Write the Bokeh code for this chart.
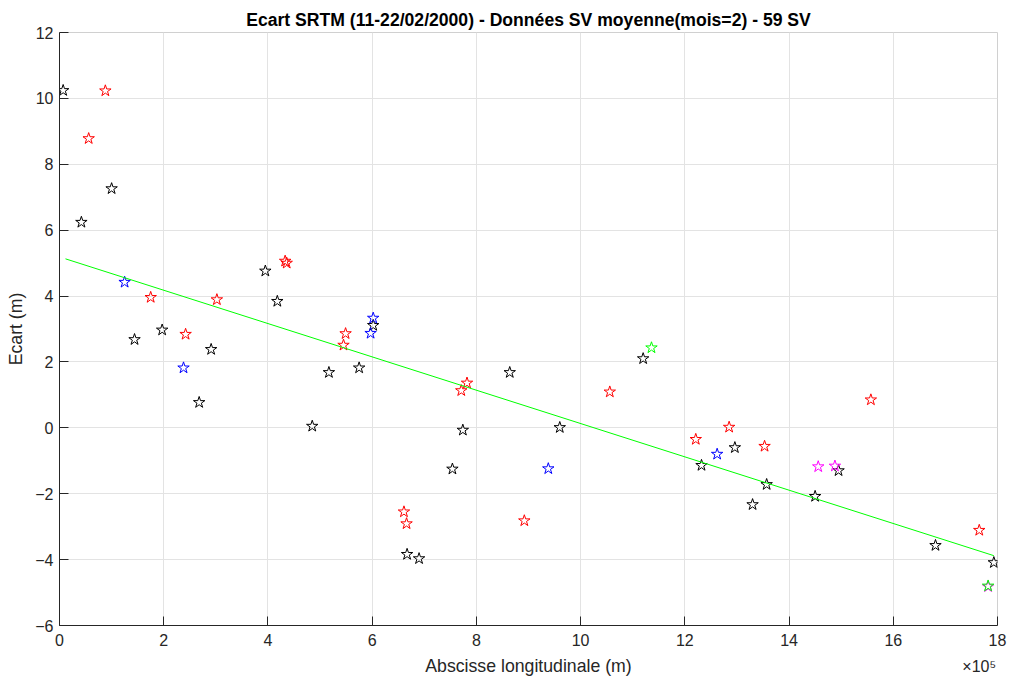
from bokeh.plotting import figure
from bokeh.models import Range1d, FixedTicker, LinearAxis
from bokeh.embed import file_html
from bokeh.resources import INLINE

FONT = "Liberation Sans"

# Abscisse longitudinale in units of 1e5 m, Ecart in m
black_x = [0.07, 0.42, 1.00, 1.44, 1.97, 2.91, 2.68, 3.95, 4.18, 4.85, 5.17, 5.75, 6.02, 6.67,
           6.90, 7.54, 7.74, 8.64, 9.60, 11.20, 12.32, 12.96, 13.30, 13.57, 14.50, 14.95, 16.81, 17.93]
black_y = [10.24, 6.24, 7.26, 2.68, 2.97, 2.38, 0.77, 4.76, 3.84, 0.05, 1.68, 1.82, 3.11, -3.84,
           -3.97, -1.25, -0.07, 1.68, 0.01, 2.10, -1.14, -0.60, -2.33, -1.72, -2.08, -1.30, -3.57, -4.09]

red_x = [0.88, 0.56, 1.75, 3.02, 4.33, 4.36, 2.42, 5.49, 5.45, 7.82, 7.71, 6.61, 6.66, 8.92,
         10.56, 12.21, 12.85, 13.53, 15.57, 17.65]
red_y = [10.23, 8.78, 3.96, 3.89, 5.06, 5.00, 2.84, 2.86, 2.51, 1.36, 1.13, -2.55, -2.91, -2.82,
         1.09, -0.35, 0.02, -0.56, 0.85, -3.11]

blue_x = [1.25, 6.02, 5.97, 2.38, 9.38, 12.62]
blue_y = [4.42, 3.33, 2.87, 1.82, -1.24, -0.80]

magenta_x = [14.56, 14.88, 17.82]
magenta_y = [-1.18, -1.16, -4.82]

green_x = [11.36, 17.82]
green_y = [2.43, -4.80]

fit_x = [0.115, 17.93]
fit_y = [5.13, -3.88]

x_ticks = [0, 2, 4, 6, 8, 10, 12, 14, 16, 18]
y_ticks = [-6, -4, -2, 0, 2, 4, 6, 8, 10, 12]

TITLE = "Ecart SRTM (11-22/02/2000) - Données SV moyenne(mois=2) - 59 SV"
XLABEL = "Abscisse longitudinale (m)"
YLABEL = "Ecart (m)"
EXPONENT = "×10⁵"
EXPONENT_POS = 17.65  # where the exponent note sits along the x axis

p = figure(width=1010, height=678, output_backend="svg", toolbar_location=None,
           x_range=Range1d(0, 18), y_range=Range1d(-6, 12),
           min_border_left=59, min_border_right=13, min_border_top=32, min_border_bottom=53)
p.background_fill_color = "white"
p.border_fill_color = "white"
p.outline_line_color = "#d0d0d0"

p.title.text = TITLE
p.title.align = "center"
p.title.text_font = FONT
p.title.text_font_size = "17.6px"
p.title.text_font_style = "bold"
p.title.text_color = "#000000"
p.title.standoff = 5

p.xaxis.ticker = FixedTicker(ticks=x_ticks)
p.yaxis.ticker = FixedTicker(ticks=y_ticks)
for ax in (p.xaxis, p.yaxis):
    ax.axis_line_color = "#262626"
    ax.major_tick_line_color = "#262626"
    ax.major_tick_in = 9
    ax.major_tick_out = 0
    ax.minor_tick_line_color = None
    ax.major_label_text_font = FONT
    ax.major_label_text_font_size = "16px"
    ax.major_label_text_color = "#262626"
    ax.axis_label_text_font = FONT
    ax.axis_label_text_font_size = "17.7px"
    ax.axis_label_text_font_style = "normal"
    ax.axis_label_text_color = "#262626"
p.xaxis.major_label_standoff = 8
p.yaxis.major_label_standoff = 6
p.yaxis.axis_label = YLABEL
p.yaxis.axis_label_standoff = 6

# second axis below: carries the axis title and the x10^5 exponent on one row
ax2 = LinearAxis(ticker=FixedTicker(ticks=[EXPONENT_POS]),
                 major_label_overrides={EXPONENT_POS: EXPONENT})
ax2.axis_line_color = None
ax2.major_tick_line_color = None
ax2.minor_tick_line_color = None
ax2.major_label_standoff = 3
ax2.major_label_text_font = FONT
ax2.major_label_text_font_size = "16px"
ax2.major_label_text_color = "#262626"
ax2.axis_label = XLABEL
ax2.axis_label_text_font = FONT
ax2.axis_label_text_font_size = "17.7px"
ax2.axis_label_text_font_style = "normal"
ax2.axis_label_text_color = "#262626"
ax2.axis_label_standoff = -22
p.add_layout(ax2, "below")

p.grid.grid_line_color = "#e3e3e3"
p.grid.grid_line_width = 1

def stars(xs, ys, color):
    p.scatter(xs, ys, marker="star", size=12, line_color=color, fill_alpha=0, line_width=1)

stars(black_x, black_y, "#000000")
stars(red_x, red_y, "#ff0000")
stars(blue_x, blue_y, "#0000ff")
stars(magenta_x, magenta_y, "#ff00ff")
stars(green_x, green_y, "#00ff00")

p.line(fit_x, fit_y, line_color="#00ff00", line_width=1)

open("out.html", "w").write(file_html(p, INLINE))
